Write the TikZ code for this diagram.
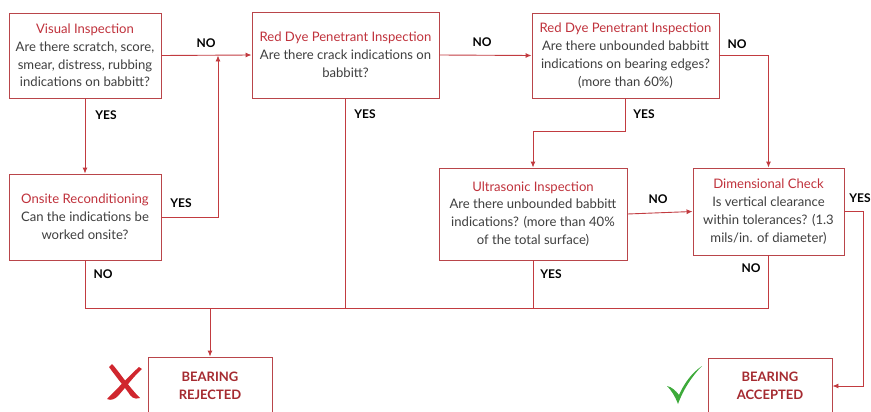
\documentclass[tikz,border=0pt]{standalone}
\usepackage{fontspec}
\setmainfont{Lato}
\usetikzlibrary{arrows.meta}
\definecolor{boxred}{HTML}{B9454A}
\definecolor{linered}{HTML}{C23B40}
\definecolor{titlered}{HTML}{C0323C}
\definecolor{bodygray}{HTML}{3F3F3F}
\definecolor{darkred}{HTML}{A52A30}
\definecolor{checkgreen}{HTML}{3DAA3A}
\definecolor{xred}{HTML}{D0262E}
\begin{document}
\begin{tikzpicture}[x=1pt,y=-1pt,
 box/.style={draw=boxred, line width=0.9pt, fill=white, align=center,
   font=\fontsize{13.1}{17.8}\selectfont\color{bodygray}, inner sep=2pt},
 endbox/.style={box, font=\fontsize{13}{18}\selectfont\bfseries\color{darkred}},
 conn/.style={draw=linered, line width=0.9pt},
 arr/.style={conn, -{Latex[length=6pt,width=5pt]}},
 lab/.style={font=\fontsize{12}{14}\selectfont\bfseries, text=black, inner sep=0pt}]
\useasboundingbox (0,0) rectangle (871,412);

% boxes
\node[box, minimum width=152pt, minimum height=85pt] (b1) at (85,55.5)
 {{\color{titlered}Visual Inspection}\\Are there scratch, score,\\smear, distress, rubbing\\indications on babbitt?};
\node[box, minimum width=187pt, minimum height=86pt] (b2) at (345.5,55)
 {{\color{titlered}Red Dye Penetrant Inspection}\\Are there crack indications on\\babbitt?};
\node[box, minimum width=187pt, minimum height=85pt] (b3) at (625.5,55.5)
 {{\color{titlered}Red Dye Penetrant Inspection}\\Are there unbounded babbitt\\indications on bearing edges?\\(more than 60\%)};
\node[box, minimum width=152pt, minimum height=86pt] (b4) at (85,217)
 {{\color{titlered}Onsite Reconditioning}\\Can the indications be\\worked onsite?};
\node[box, minimum width=188pt, minimum height=92pt] (b5) at (533,214)
 {{\color{titlered}Ultrasonic Inspection}\\Are there unbounded babbitt\\indications? (more than 40\%\\of the total surface)};
\node[box, minimum width=151pt, minimum height=87pt] (b6) at (768.5,211.5)
 {{\color{titlered}Dimensional Check}\\Is vertical clearance\\within tolerances? (1.3\\mils/in. of diameter)};
\node[endbox, minimum width=124pt, minimum height=57pt] (b7) at (210,385.5)
 {BEARING\\REJECTED};
\node[endbox, minimum width=124pt, minimum height=56pt] (b8) at (770,386)
 {BEARING\\ACCEPTED};

% junction coordinates
\coordinate (j1) at (218,55.5);
\coordinate (bus) at (0,308);
\coordinate (r1) at (0,131);
\coordinate (rx) at (863,0);

% connectors
\draw[arr] (b1.east) -- (b2.west);
\draw[arr] (b1.south) -- (b4.north);
\draw[arr] (b4.east) -| (j1);
\draw[arr] (b2.east) -- (b3.west);
\draw[arr] (b3.east) -| (b6.north);
\draw[arr] (b3.south) -- (b3.south |- r1) -| (b5.north);
\draw[arr] (b5.east) -- (b6.west);
\draw[arr] (b6.east) -- (rx |- b6.east) |- (b8.east);
\draw[conn] (b4.south) -- (b4.south |- bus) -- (b6.south |- bus) -- (b6.south);
\draw[conn] (b2.south) -- (b2.south |- bus);
\draw[conn] (b5.south) -- (b5.south |- bus);
\draw[arr] (b7.north |- bus) -- (b7.north);

% labels
\node[lab] (l1) at (206,43) {NO};
\node[lab] (l2) at (106,115) {YES};
\node[lab] (l3) at (181,203) {YES};
\node[lab] (l4) at (103,274) {NO};
\node[lab] (l5) at (482,42) {NO};
\node[lab] (l6) at (365,114) {YES};
\node[lab] (l7) at (737,44) {NO};
\node[lab] (l8) at (644,114) {YES};
\node[lab] (l9) at (658,199) {NO};
\node[lab] (l10) at (551,274) {YES};
\node[lab] (l11) at (751,268) {NO};
\node[lab] (l12) at (860,198) {YES};

% red X mark
\fill[xred] (112,364) .. controls (118,370) and (128,386) .. (140,398)
  .. controls (134,400) and (131,397) .. (128,392)
  .. controls (122,384) and (114,374) .. (109,367) -- cycle;
\fill[xred] (139,367) .. controls (131,374) and (118,388) .. (107,399)
  .. controls (111,401) and (115,399) .. (118,396)
  .. controls (126,387) and (134,376) .. (142,369) -- cycle;

% green check
\fill[checkgreen] (667,386) .. controls (671,390) and (675,396) .. (678,404)
  .. controls (683,390) and (692,376) .. (702,366)
  .. controls (690,374) and (683,386) .. (679,395)
  .. controls (676,391) and (672,387) .. (667,386) -- cycle;
\end{tikzpicture}
\end{document}
